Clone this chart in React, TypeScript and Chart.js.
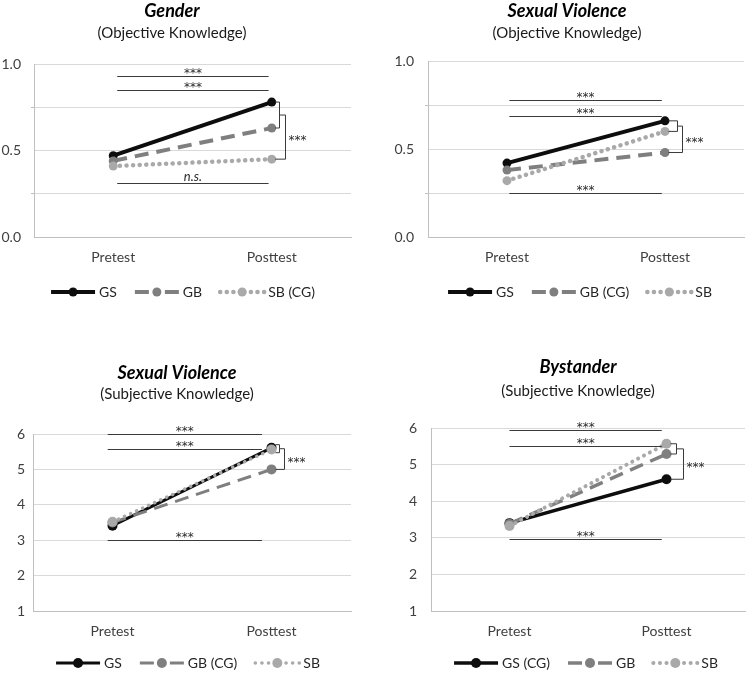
import React, { useEffect, useRef } from 'react';
import { Chart, registerables } from 'chart.js';
Chart.register(...registerables);

const FONT = 'Lato, "Open Sans", sans-serif';
const STAR_FONT = '"DejaVu Sans", sans-serif';

const categories = ['Pretest', 'Posttest'];

// Panel 1: Gender (Objective Knowledge)
const genderGS = [0.47, 0.78];
const genderGB = [0.44, 0.63];
const genderSB = [0.41, 0.45];
const genderNames = ['GS', 'GB', 'SB (CG)'];
const genderSigValues = [0.93, 0.85, 0.31];
const genderSigLabels = ['***', '***', 'n.s.'];

// Panel 2: Sexual Violence (Objective Knowledge)
const svObjGS = [0.42, 0.66];
const svObjGB = [0.38, 0.48];
const svObjSB = [0.32, 0.6];
const svObjNames = ['GS', 'GB (CG)', 'SB'];
const svObjSigValues = [0.78, 0.69, 0.25];
const svObjSigLabels = ['***', '***', '***'];

// Panel 3: Sexual Violence (Subjective Knowledge)
const svSubGS = [3.41, 5.61];
const svSubGB = [3.5, 5.0];
const svSubSB = [3.52, 5.56];
const svSubNames = ['GS', 'GB (CG)', 'SB'];
const svSubSigValues = [5.99, 5.57, 3.0];
const svSubSigLabels = ['***', '***', '***'];

// Panel 4: Bystander (Subjective Knowledge)
const byGS = [3.4, 4.6];
const byGB = [3.38, 5.29];
const bySB = [3.32, 5.57];
const byNames = ['GS (CG)', 'GB', 'SB'];
const bySigValues = [5.95, 5.52, 2.96];
const bySigLabels = ['***', '***', '***'];

const COLORS = ['#0d0d0d', '#7f7f7f', '#a9a9a9'];

type Panel = {
  left: number; top: number; w: number; h: number;
  area: { l: number; r: number; t: number; b: number };
  title: string; subtitle: string;
  titleX: number; titleY: number; subY: number;
  legendX: number; legendY: number;
  series: number[][]; names: string[];
  sigValues: number[]; sigLabels: string[]; sigRange: [number, number];
  yMin: number; yMax: number; yStep: number; minorTicks: boolean; yPad: number;
  lineWidth: number; radius: number;
  bracket: { pair: [number, number]; third: number; off1: number; off2: number };
};

const panels: Panel[] = [
  {
    left: 0, top: 0, w: 375, h: 310,
    area: { l: 34, r: 351, t: 64, b: 237 },
    title: 'Gender', subtitle: '(Objective Knowledge)',
    titleX: 172, titleY: 11, subY: 33,
    legendX: 183, legendY: 292,
    series: [genderGS, genderGB, genderSB], names: genderNames,
    sigValues: genderSigValues, sigLabels: genderSigLabels, sigRange: [0.025, 0.98],
    yMin: 0, yMax: 1, yStep: 0.25, minorTicks: true, yPad: 10,
    lineWidth: 4, radius: 4.5,
    bracket: { pair: [0, 1], third: 2, off1: 7, off2: 13 },
  },
  {
    left: 375, top: 0, w: 375, h: 310,
    area: { l: 53, r: 369, t: 61, b: 237 },
    title: 'Sexual Violence', subtitle: '(Objective Knowledge)',
    titleX: 192, titleY: 11, subY: 33,
    legendX: 205, legendY: 292,
    series: [svObjGS, svObjGB, svObjSB], names: svObjNames,
    sigValues: svObjSigValues, sigLabels: svObjSigLabels, sigRange: [0.015, 0.98],
    yMin: 0, yMax: 1, yStep: 0.25, minorTicks: true, yPad: 11,
    lineWidth: 4, radius: 4.5,
    bracket: { pair: [0, 2], third: 1, off1: 12, off2: 17 },
  },
  {
    left: 0, top: 330, w: 375, h: 343,
    area: { l: 33, r: 351, t: 104, b: 281 },
    title: 'Sexual Violence', subtitle: '(Subjective Knowledge)',
    titleX: 177, titleY: 43, subY: 64,
    legendX: 188, legendY: 333,
    series: [svSubGS, svSubGB, svSubSB], names: svSubNames,
    sigValues: svSubSigValues, sigLabels: svSubSigLabels, sigRange: [-0.03, 0.94],
    yMin: 1, yMax: 6, yStep: 1, minorTicks: false, yPad: 8,
    lineWidth: 3, radius: 5,
    bracket: { pair: [0, 2], third: 1, off1: 7, off2: 12 },
  },
  {
    left: 375, top: 330, w: 375, h: 343,
    area: { l: 56, r: 372, t: 98, b: 281 },
    title: 'Bystander', subtitle: '(Subjective Knowledge)',
    titleX: 203, titleY: 37, subY: 61,
    legendX: 211, legendY: 333,
    series: [byGS, byGB, bySB], names: byNames,
    sigValues: bySigValues, sigLabels: bySigLabels, sigRange: [0.0, 0.97],
    yMin: 1, yMax: 6, yStep: 1, minorTicks: false, yPad: 14,
    lineWidth: 3.5, radius: 5,
    bracket: { pair: [2, 1], third: 0, off1: 9, off2: 16 },
  },
];

const DASHES = [[], [14, 8], [0.1, 6.5]];
const CAPS = ['butt', 'butt', 'round'];

function isLabeled(p: Panel, v: number) {
  if (!p.minorTicks) return true;
  return Math.abs(v * 2 - Math.round(v * 2)) < 1e-9;
}

function ChartPanel({ p }: { p: Panel }) {
  const ref = useRef<HTMLCanvasElement | null>(null);
  useEffect(() => {
    const canvas = ref.current;
    if (!canvas) return;
    const annot = {
      id: 'annot',
      afterDraw(chart: any) {
        const ctx = chart.ctx as CanvasRenderingContext2D;
        const xs = chart.scales.x;
        const ys = chart.scales.y;
        ctx.save();
        // significance lines
        p.sigValues.forEach((v, i) => {
          const y = Math.round(ys.getPixelForValue(v)) + 0.5;
          const x0 = xs.getPixelForValue(p.sigRange[0]);
          const x1 = xs.getPixelForValue(p.sigRange[1]);
          ctx.strokeStyle = '#3a3a3a';
          ctx.lineWidth = 1;
          ctx.setLineDash([]);
          ctx.beginPath();
          ctx.moveTo(x0, y);
          ctx.lineTo(x1, y);
          ctx.stroke();
          const lab = p.sigLabels[i];
          ctx.fillStyle = '#2a2a2a';
          ctx.textAlign = 'center';
          ctx.textBaseline = 'alphabetic';
          if (lab === 'n.s.') {
            ctx.font = `italic 13px ${FONT}`;
            ctx.fillText(lab, (x0 + x1) / 2, y - 3);
          } else {
            ctx.font = `12px ${STAR_FONT}`;
            ctx.fillText(lab, (x0 + x1) / 2, y + 0.5);
          }
        });
        // brackets
        const post = xs.getPixelForValue(1);
        const b = p.bracket;
        let ya = ys.getPixelForValue(p.series[b.pair[0]][1]);
        let yb = ys.getPixelForValue(p.series[b.pair[1]][1]);
        if (Math.abs(yb - ya) < 8) {
          const m = (ya + yb) / 2;
          ya = m - 4;
          yb = m + 4;
        }
        const yc = ys.getPixelForValue(p.series[b.third][1]);
        const bx1 = Math.round(post + b.off1) + 0.5;
        const bx2 = Math.round(post + b.off2) + 0.5;
        const stub = post + p.radius - 1;
        ctx.strokeStyle = '#3a3a3a';
        ctx.lineWidth = 1;
        ctx.beginPath();
        ctx.moveTo(stub, ya);
        ctx.lineTo(bx1, ya);
        ctx.lineTo(bx1, yb);
        ctx.lineTo(stub, yb);
        ctx.stroke();
        const mid = (ya + yb) / 2;
        ctx.beginPath();
        ctx.moveTo(bx1, mid);
        ctx.lineTo(bx2, mid);
        ctx.lineTo(bx2, yc);
        ctx.lineTo(stub, yc);
        ctx.stroke();
        ctx.fillStyle = '#2a2a2a';
        ctx.font = `12px ${STAR_FONT}`;
        ctx.textAlign = 'left';
        ctx.textBaseline = 'alphabetic';
        ctx.fillText('***', bx2 + 3, (mid + yc) / 2 + 7);
        // titles
        ctx.fillStyle = '#000';
        ctx.textAlign = 'center';
        ctx.textBaseline = 'middle';
        ctx.font = `italic bold 18px ${FONT}`;
        ctx.fillText(p.title, p.titleX, p.titleY);
        ctx.font = `15px ${FONT}`;
        ctx.fillStyle = '#1a1a1a';
        ctx.fillText(p.subtitle, p.titleX, p.subY);
        // legend
        ctx.font = `14px ${FONT}`;
        const lineLen = 44, gapText = 4, gapItem = 18;
        const widths = p.names.map((n) => lineLen + gapText + ctx.measureText(n).width);
        const total = widths.reduce((a, c) => a + c, 0) + gapItem * (widths.length - 1);
        let x = p.legendX - total / 2;
        const ly = p.legendY;
        p.names.forEach((n, i) => {
          const ds = chart.data.datasets[i];
          const midX = x + lineLen / 2;
          ctx.strokeStyle = ds.borderColor;
          ctx.lineWidth = ds.borderWidth;
          ctx.lineCap = CAPS[i] as CanvasLineCap;
          ctx.setLineDash(DASHES[i]);
          ctx.beginPath();
          ctx.moveTo(x, ly);
          ctx.lineTo(midX, ly);
          ctx.stroke();
          ctx.beginPath();
          ctx.moveTo(x + lineLen, ly);
          ctx.lineTo(midX, ly);
          ctx.stroke();
          ctx.setLineDash([]);
          ctx.lineCap = 'butt';
          ctx.fillStyle = ds.pointBackgroundColor;
          ctx.beginPath();
          ctx.arc(midX, ly, p.radius, 0, Math.PI * 2);
          ctx.fill();
          ctx.fillStyle = '#262626';
          ctx.textAlign = 'left';
          ctx.textBaseline = 'middle';
          ctx.fillText(n, x + lineLen + gapText, ly);
          x += widths[i] + gapItem;
        });
        ctx.restore();
      },
    };
    const datasets = p.series.map((s, i) => ({
      label: p.names[i],
      data: s,
      borderColor: COLORS[i],
      backgroundColor: COLORS[i],
      borderWidth: i === 2 ? p.lineWidth + 0.5 : p.lineWidth,
      borderDash: DASHES[i],
      borderCapStyle: CAPS[i],
      pointRadius: p.radius,
      pointBackgroundColor: COLORS[i],
      pointBorderColor: COLORS[i],
      pointBorderWidth: 0,
      order: 2 - i,
      tension: 0,
    }));
    const chart = new Chart(canvas, {
      type: 'line',
      data: { labels: categories, datasets },
      options: {
        responsive: false,
        animation: false,
        devicePixelRatio: 1,
        layout: { padding: { left: 0, right: p.w - p.area.r, top: p.area.t, bottom: 0 } },
        plugins: { legend: { display: false }, title: { display: false }, tooltip: { enabled: false } },
        scales: {
          x: {
            offset: true,
            grid: { display: false, drawTicks: false },
            border: { display: true, color: '#bfbfbf', width: 1 },
            ticks: { font: { family: FONT, size: 14 }, color: '#404040', padding: 12 },
            afterFit: (s: any) => { s.height = p.h - p.area.b; },
          },
          y: {
            min: p.yMin,
            max: p.yMax,
            ticks: {
              stepSize: p.yStep,
              font: { family: FONT, size: 14 },
              color: '#404040',
              padding: p.yPad,
              callback: (v: any) => {
                const n = Number(v);
                if (!isLabeled(p, n)) return '';
                return p.minorTicks ? n.toFixed(1) : String(Math.round(n));
              },
            },
            grid: {
              color: '#d9d9d9',
              drawTicks: p.minorTicks,
              tickLength: 3,
              tickColor: (c: any) => (c.tick && !isLabeled(p, c.tick.value) ? '#bfbfbf' : 'rgba(0,0,0,0)'),
            },
            border: { display: true, color: '#bfbfbf', width: 1 },
            afterFit: (s: any) => { s.width = p.area.l; },
          },
        },
      },
      plugins: [annot],
    } as any);
    return () => chart.destroy();
  }, [p]);
  return (
    <canvas
      ref={ref}
      width={p.w}
      height={p.h}
      style={{ position: 'absolute', left: p.left, top: p.top, width: p.w, height: p.h }}
    />
  );
}

export default function App() {
  return (
    <div style={{ position: 'absolute', left: 0, top: 0, width: 750, height: 673, background: '#fff' }}>
      {panels.map((p, i) => (
        <ChartPanel key={i} p={p} />
      ))}
    </div>
  );
}
